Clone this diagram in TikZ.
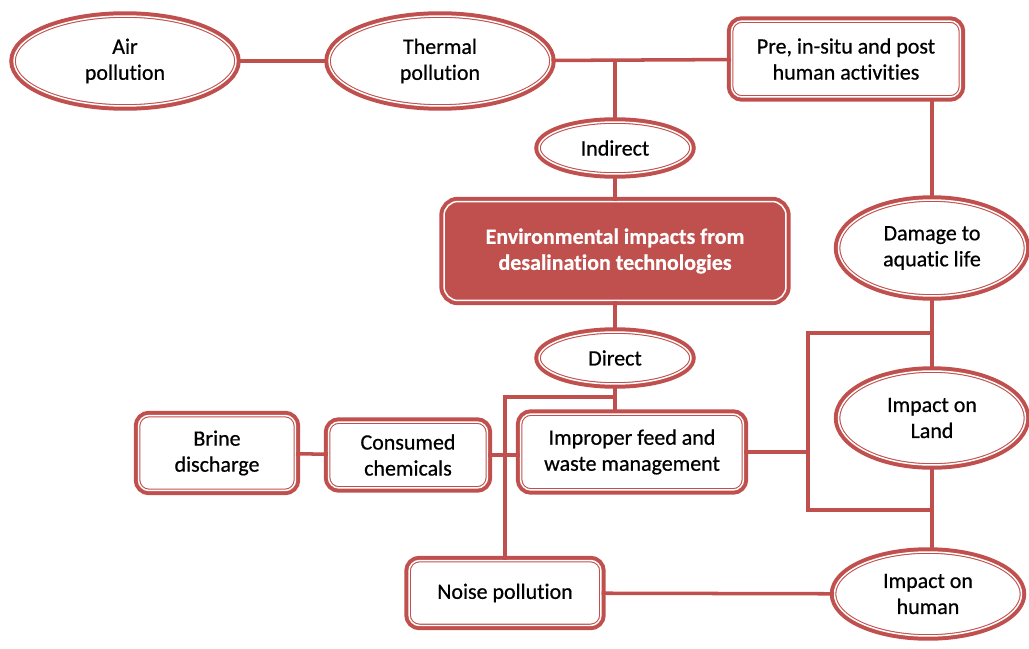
\documentclass[tikz,border=0pt]{standalone}
\usepackage{fontspec}
\setmainfont{Carlito}[Ligatures=NoCommon, FakeBold=0.6]
\usetikzlibrary{shapes.geometric}
\definecolor{accred}{HTML}{C0504D}
\tikzset{
  every node/.style={font=\fontsize{12.5}{14.8}\selectfont, align=center, inner sep=0pt},
  rim/.style={preaction={draw=accred, line width=5.4pt}, draw=accred, double=white,
    double distance=0.85pt, line width=0.6pt},
  oval/.style={ellipse, rim, fill=white},
  pane/.style={rectangle, rounded corners=6pt, rim, fill=white},
  core/.style={rectangle, rounded corners=8pt, rim, fill=accred, text=white, font=\fontsize{12.5}{14.8}\selectfont\bfseries},
  link/.style={draw=accred, line width=2pt}
}
\begin{document}
\begin{tikzpicture}[x=0.02cm, y=-0.02cm]
  \useasboundingbox (0,0) rectangle (1029,649);
  % upper branch
  \node[oval, minimum width=4.44cm, minimum height=1.8cm] (air) at (125,61) {Air\\pollution};
  \node[oval, minimum width=4.44cm, minimum height=1.8cm] (thermal) at (440,61) {Thermal\\pollution};
  \node[pane, minimum width=4.58cm, minimum height=1.52cm] (human) at (846,59) {Pre, in-situ and post\\human activities};
  \node[oval, minimum width=3.04cm, minimum height=1.04cm] (indirect) at (615,148) {Indirect};
  % centre
  \node[core, minimum width=6.84cm, minimum height=1.98cm] (impacts) at (615,251) {Environmental impacts from\\desalination technologies};
  % lower branch
  \node[oval, minimum width=3.04cm, minimum height=1.04cm] (direct) at (615,358) {Direct};
  \node[pane, minimum width=4.46cm, minimum height=1.52cm] (improper) at (632,452) {Improper feed and\\waste management};
  \node[pane, minimum width=3.18cm, minimum height=1.32cm] (chemicals) at (408,455) {Consumed\\chemicals};
  \node[pane, minimum width=3.14cm, minimum height=1.5cm] (brine) at (217,453) {Brine\\discharge};
  \node[pane, minimum width=3.84cm, minimum height=1.3cm] (noise) at (505,593) {Noise pollution};
  % right column
  \node[oval, minimum width=3.74cm, minimum height=1.92cm] (aquatic) at (932,248) {Damage to\\aquatic life};
  \node[oval, minimum width=3.74cm, minimum height=1.88cm] (land) at (932,418) {Impact on\\Land};
  \node[oval, minimum width=3.74cm, minimum height=1.68cm] (health) at (928,594) {Impact on\\human};
  \coordinate (split) at (616,397);
  \coordinate (rtop) at (808,333);
  \coordinate (rbot) at (808,510);
  % connectors
  \draw[link] (air) -- (thermal);
  \draw[link] (thermal) -- (human);
  \draw[link] (indirect.north) -- (indirect.north |- thermal);
  \draw[link] (indirect) -- (impacts);
  \draw[link] (impacts.south -| direct) -- (direct);
  \draw[link] (direct.south) -- (direct.south |- improper.north);
  \draw[link] (split) -| (noise.north);
  \draw[link] (brine) -- (chemicals);
  \draw[link] (chemicals.east) -- (chemicals.east -| improper.west);
  \draw[link] (improper.east) -- (improper.east -| rtop);
  \draw[link] (aquatic.south |- rtop) -- (rtop) -- (rbot) -- (aquatic.south |- rbot);
  \draw[link] (aquatic.north |- human.south) -- (aquatic.north);
  \draw[link] (aquatic) -- (land);
  \draw[link] (land.south) -- (land.south |- health.north);
  \draw[link] (noise) -- (health);
\end{tikzpicture}
\end{document}
